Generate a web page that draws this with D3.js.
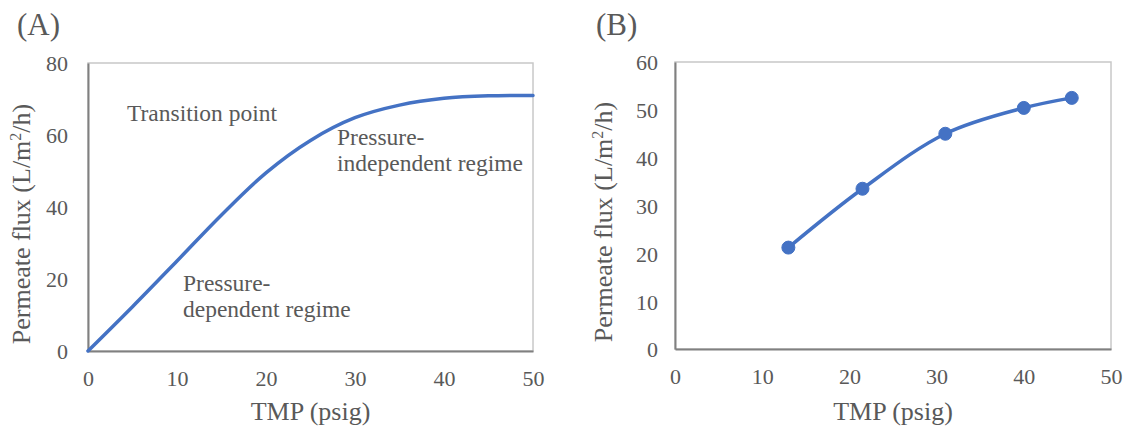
<!DOCTYPE html>
<html>
<head>
<meta charset="utf-8">
<script src="https://cdn.jsdelivr.net/npm/d3@7"></script>
<style>
  body { margin: 0; background: #fff; }
  svg text { font-family: "Liberation Serif", "Times New Roman", Times, "DejaVu Serif", serif !important; fill: #595959; }
</style>
</head>
<body>
<div id="chart"></div>
<script>
// panel A: schematic flux curve
let tmpA = [0, 5, 10, 15, 20, 25, 30, 35, 40, 45, 50];
let fluxA = [0, 12.3, 25, 37.8, 49.5, 58.5, 64.8, 68.3, 70.2, 70.9, 71];
// panel B: measured points
let tmpB = [13, 21.5, 31, 40, 45.5];
let fluxB = [21.2, 33.5, 45.0, 50.4, 52.5];
let xTicks = [0, 10, 20, 30, 40, 50];
let yTicksA = [0, 20, 40, 60, 80];
let yTicksB = [0, 10, 20, 30, 40, 50, 60];

const SERIF = "'Liberation Serif', 'Times New Roman', serif";

let svg = d3.select("#chart")
    .append("svg")
    .attr("width", 1127)
    .attr("height", 429)
    .style("font-family", SERIF);

function drawPanel(opt) {
    let x = d3.scaleLinear().domain([0, 50]).range([opt.left, opt.right]);
    let y = d3.scaleLinear().domain(opt.yDomain).range([opt.bottom, opt.top]);
    let g = svg.append("g");

    // light frame on top/right
    g.append("rect")
        .attr("x", opt.left).attr("y", opt.top)
        .attr("width", opt.right - opt.left).attr("height", opt.bottom - opt.top)
        .attr("fill", "none").attr("stroke", "#c8c8c8").attr("stroke-width", 1.5);

    let xAxis = g.append("g")
        .attr("transform", "translate(0," + opt.bottom + ")")
        .call(d3.axisBottom(x).tickValues(xTicks).tickSize(0).tickPadding(19));
    let yAxis = g.append("g")
        .attr("transform", "translate(" + opt.left + ",0)")
        .call(d3.axisLeft(y).tickValues(opt.yTicks).tickSize(0).tickPadding(opt.yPad));
    [xAxis, yAxis].forEach(function (a) {
        a.attr("font-family", null);
        a.select(".domain").attr("stroke", "#808080").attr("stroke-width", 2);
        a.selectAll("text").attr("font-size", "22px").style("font-family", SERIF).attr("fill", "#595959");
    });
    yAxis.selectAll("text").attr("dy", "0.36em");

    // axis titles
    g.append("text")
        .attr("x", (opt.left + opt.right) / 2)
        .attr("y", 420)
        .attr("text-anchor", "middle")
        .attr("font-size", "26px")
        .style("font-family", SERIF)
        .text("TMP (psig)");
    let yt = g.append("text")
        .attr("transform", "translate(" + opt.titleX + "," + opt.titleY + ") rotate(-90)")
        .attr("text-anchor", "middle")
        .attr("font-size", "26px")
        .style("font-family", SERIF);
    yt.append("tspan").text("Permeate flux (L/m");
    yt.append("tspan").attr("font-size", "16px").attr("dy", "-9").text("2");
    yt.append("tspan").attr("dy", "9").text("/h)");

    // panel letter
    g.append("text")
        .attr("x", opt.letterX)
        .attr("y", 35)
        .attr("font-size", "31px")
        .style("font-family", SERIF)
        .text(opt.letter);

    return { x: x, y: y, g: g };
}

// ---- panel A
let a = drawPanel({
    left: 88, right: 533, top: 63, bottom: 351,
    yDomain: [0, 80], yTicks: yTicksA, yPad: 20,
    titleX: 30, titleY: 224, letter: "(A)", letterX: 17
});
let lineA = d3.line()
    .x(function (d, i) { return a.x(tmpA[i]); })
    .y(function (d) { return a.y(d); })
    .curve(d3.curveCatmullRom.alpha(0.5));
a.g.append("path")
    .datum(fluxA)
    .attr("d", lineA)
    .attr("fill", "none")
    .attr("stroke", "#4472C4")
    .attr("stroke-width", 3.5)
    .attr("stroke-linecap", "round");

let notes = [
    { x: 127, y: 121, lines: ["Transition point"] },
    { x: 337, y: 145, lines: ["Pressure-", "independent regime"] },
    { x: 183, y: 291, lines: ["Pressure-", "dependent regime"] }
];
notes.forEach(function (n) {
    let t = a.g.append("text")
        .attr("x", n.x).attr("y", n.y)
        .attr("font-size", "23.5px")
        .style("font-family", SERIF);
    n.lines.forEach(function (l, i) {
        t.append("tspan").attr("x", n.x).attr("dy", i === 0 ? 0 : 26).text(l);
    });
});

// ---- panel B
let b = drawPanel({
    left: 675, right: 1111, top: 62, bottom: 349,
    yDomain: [0, 60], yTicks: yTicksB, yPad: 17,
    titleX: 612, titleY: 222, letter: "(B)", letterX: 596
});
let lineB = d3.line()
    .x(function (d, i) { return b.x(tmpB[i]); })
    .y(function (d) { return b.y(d); })
    .curve(d3.curveCatmullRom.alpha(0.5));
b.g.append("path")
    .datum(fluxB)
    .attr("d", lineB)
    .attr("fill", "none")
    .attr("stroke", "#4472C4")
    .attr("stroke-width", 3.5);
b.g.selectAll("circle")
    .data(fluxB)
    .enter()
    .append("circle")
    .attr("cx", function (d, i) { return b.x(tmpB[i]); })
    .attr("cy", function (d) { return b.y(d); })
    .attr("r", 6.5)
    .attr("fill", "#4472C4")
    .attr("stroke", "#4472C4");
</script>
</body>
</html>
